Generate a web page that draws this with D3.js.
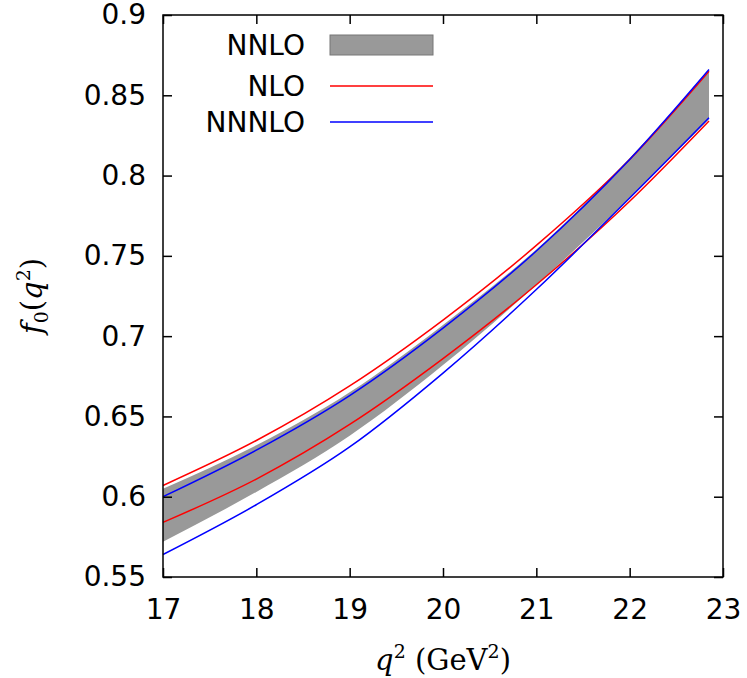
<!DOCTYPE html>
<html><head><meta charset="utf-8">
<script src="https://cdn.jsdelivr.net/npm/d3@7"></script>
<style>body{margin:0;background:#fff}</style></head>
<body><svg id="c" width="747" height="678"></svg>
<script>
const q2 = [17, 18, 19, 20, 21, 22, 22.85];
const nnloUpper = [0.605, 0.632, 0.665, 0.707, 0.754, 0.811, 0.865];
const nnloLower = [0.572, 0.603, 0.638, 0.682, 0.732, 0.786, 0.835];
const nloUpper = [0.607, 0.635, 0.669, 0.710, 0.7565, 0.810, 0.865];
const nloLower = [0.584, 0.611, 0.645, 0.686, 0.732, 0.784, 0.834];
const n3loUpper = [0.600, 0.629, 0.663, 0.705, 0.753, 0.810, 0.866];
const n3loLower = [0.564, 0.595, 0.631, 0.677, 0.729, 0.786, 0.836];
const xTicks = [17, 18, 19, 20, 21, 22, 23];
const yTicks = [0.55, 0.6, 0.65, 0.7, 0.75, 0.8, 0.85, 0.9];

const svg = d3.select("#c");
const L = 163, R = 723, T = 15, B = 577;
const x = d3.scaleLinear().domain([17, 23]).range([L, R]);
const y = d3.scaleLinear().domain([0.55, 0.9]).range([B, T]);
const font = "'DejaVu Sans', sans-serif";

const area = d3.area().x((d, i) => x(q2[i])).y0((d, i) => y(nnloLower[i])).y1(d => y(d)).curve(d3.curveMonotoneX);
svg.append("path").attr("d", area(nnloUpper)).attr("fill", "#999");
const line = d3.line().x((d, i) => x(q2[i])).y(d => y(d)).curve(d3.curveMonotoneX);
[[nloUpper, "#f00"], [nloLower, "#f00"], [n3loUpper, "#00f"], [n3loLower, "#00f"]].forEach(([s, c]) =>
  svg.append("path").attr("d", line(s)).attr("fill", "none").attr("stroke", c).attr("stroke-width", 1.5));

const ax = [
  [d3.axisBottom(x).tickValues(xTicks).tickFormat(d3.format("d")), `translate(0,${B})`],
  [d3.axisTop(x).tickValues(xTicks).tickFormat(""), `translate(0,${T})`],
  [d3.axisLeft(y).tickValues(yTicks).tickFormat(d => String(+d.toFixed(2))), `translate(${L},0)`],
  [d3.axisRight(y).tickValues(yTicks).tickFormat(""), `translate(${R},0)`]
];
ax.forEach(([a, tr], k) => {
  const g = svg.append("g").attr("transform", tr).call(a.tickSizeInner(-9).tickSizeOuter(0).tickPadding(k === 0 ? 22 : 17));
  g.select(".domain").remove();
  g.selectAll("line").attr("stroke", "#000").attr("stroke-width", 1.5);
  g.selectAll("text").attr("font-family", font).attr("font-size", 28).attr("fill", "#000");
});
svg.append("rect").attr("x", L).attr("y", T).attr("width", R - L).attr("height", B - T)
  .attr("fill", "none").attr("stroke", "#000").attr("stroke-width", 1.5);

const leg = [["NNLO", 45, "box"], ["NLO", 86, "#f00"], ["NNNLO", 122, "#00f"]];
leg.forEach(([t, yy, c]) => {
  svg.append("text").attr("x", 305).attr("y", yy + 10).attr("text-anchor", "end")
    .attr("font-family", font).attr("font-size", 28).text(t);
  if (c === "box") svg.append("rect").attr("x", 330).attr("y", yy - 10).attr("width", 103).attr("height", 20)
    .attr("fill", "#999").attr("stroke", "#777");
  else svg.append("line").attr("x1", 330).attr("x2", 433).attr("y1", yy).attr("y2", yy)
    .attr("stroke", c).attr("stroke-width", 1.5);
});

const yl = svg.append("text").attr("transform", "translate(42,296) rotate(-90)").attr("text-anchor", "middle")
  .attr("font-family", "'DejaVu Serif', serif").attr("font-size", 29);
yl.append("tspan").attr("font-style", "italic").text("f");
yl.append("tspan").attr("font-size", 19).attr("dy", 6).text("0");
yl.append("tspan").attr("dy", -6).text("(");
yl.append("tspan").attr("font-style", "italic").text("q");
yl.append("tspan").attr("font-size", 19).attr("dy", -12).text("2");
yl.append("tspan").attr("dy", 12).text(")");

const xl = svg.append("text").attr("x", 443).attr("y", 670).attr("text-anchor", "middle")
  .attr("font-family", "'DejaVu Serif', serif").attr("font-size", 29);
xl.append("tspan").attr("font-style", "italic").text("q");
xl.append("tspan").attr("font-size", 19).attr("dy", -12).text("2");
xl.append("tspan").attr("dy", 12).text(" (GeV");
xl.append("tspan").attr("font-size", 19).attr("dy", -12).text("2");
xl.append("tspan").attr("dy", 12).text(")");
</script></body></html>
